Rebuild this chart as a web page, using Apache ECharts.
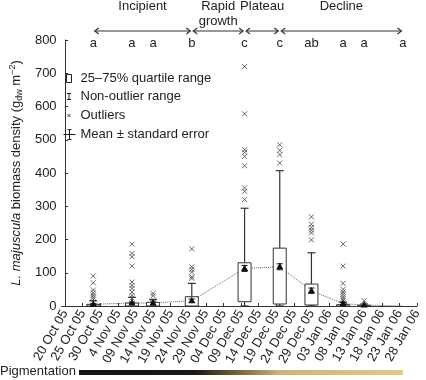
<!DOCTYPE html>
<html>
<head>
<meta charset="utf-8">
<script src="https://cdn.jsdelivr.net/npm/echarts@6/dist/echarts.min.js"></script>
<style>
html, body { margin: 0; padding: 0; background: #fff; }
#main { width: 426px; height: 380px; }
</style>
</head>
<body>
<div id="main"></div>
<script>
// x values are days after 20 Oct 2005
var tickLabels = ['20 Oct 05', '25 Oct 05', '30 Oct 05', '4 Nov 05', '09 Nov 05', '14 Nov 05',
  '19 Nov 05', '24 Nov 05', '29 Nov 05', '04 Dec 05', '09 Dec 05', '14 Dec 05', '19 Dec 05',
  '24 Dec 05', '29 Dec 05', '03 Jan 06', '08 Jan 06', '13 Jan 06', '18 Jan 06', '23 Jan 06', '28 Jan 06'];
var tickDays = [0, 5, 10, 15, 20, 25, 30, 35, 40, 45, 50, 55, 60, 65, 70, 75, 80, 85, 90, 95, 100];

var sampleDays  = [8, 19, 25, 36, 51, 61, 70, 79, 85, 96];
var whiskerLow  = [0, 0, 0, 0, 0, 0, 0, 0, 0, 0];
var q1          = [0, 0, 0, 0, 13, 6, 3, 0, 0, 0];
var q3          = [5, 9, 11, 28, 130, 174, 66, 4, 2, 0];
var whiskerHigh = [16, 26, 20, 68, 294, 407, 160, 12, 6, 0];
var means       = [5, 9, 9, 16, 113, 118, 46, 7, 3, 0];
var stdErr      = [2, 3, 6, 5, 9, 9, 8, 3, 1, 0];
var outliers = [
  [90, 70, 48, 40, 33, 26, 20],
  [186, 158, 148, 120, 72, 62, 53, 42, 32, 24],
  [38, 31],
  [172, 118, 110, 102, 88, 83],
  [720, 578, 470, 462, 450, 422, 355, 345, 320],
  [485, 468, 455, 430],
  [268, 246, 236, 228, 220, 199],
  [186, 120, 68, 50, 42, 35, 28, 22, 16],
  [16],
  []
];
var groupLetters = ['a', 'a', 'a', 'b', 'c', 'c', 'ab', 'a', 'a', 'a'];

var phaseNames = ['Incipient', 'Rapid\ngrowth', 'Plateau', 'Decline'];
var phaseStart = [8, 36, 51, 61];
var phaseEnd   = [36, 51, 61, 96];

var ink = '#222';
var font = '"Liberation Sans", Arial, Helvetica, sans-serif';

var boxData = sampleDays.map(function (d, i) { return [d, q1[i], q3[i]]; });
var whiskerData = sampleDays.map(function (d, i) { return [d, whiskerLow[i], q1[i], q3[i], whiskerHigh[i]]; });
var meanData = sampleDays.map(function (d, i) { return [d, means[i], stdErr[i]]; });
var outlierData = [];
outliers.forEach(function (list, i) {
  list.forEach(function (v) { outlierData.push([sampleDays[i], v]); });
});
var letterData = sampleDays.map(function (d, i) { return [d, groupLetters[i]]; });
var phaseData = phaseNames.map(function (n, i) { return [phaseStart[i], phaseEnd[i], n]; });

var chart = echarts.init(document.getElementById('main'));

function renderBox(params, api) {
  var x = api.coord([api.value(0), 0])[0];
  var yLo = api.coord([0, api.value(1)])[1];
  var yHi = api.coord([0, api.value(2)])[1];
  if (yLo - yHi < 0.5) return null;
  var w = 13;
  return {
    type: 'rect',
    shape: { x: x - w / 2, y: yHi, width: w, height: yLo - yHi },
    style: { fill: '#fff', stroke: '#333', lineWidth: 1 }
  };
}

function renderWhisker(params, api) {
  var x = api.coord([api.value(0), 0])[0];
  var yMin = api.coord([0, api.value(1)])[1];
  var yQ1 = api.coord([0, api.value(2)])[1];
  var yQ3 = api.coord([0, api.value(3)])[1];
  var yMax = api.coord([0, api.value(4)])[1];
  if (yMin - yMax < 0.5) return null;
  var c = 4;
  var st = { stroke: '#333', lineWidth: 1.2 };
  return {
    type: 'group',
    children: [
      { type: 'line', shape: { x1: x, y1: yQ3, x2: x, y2: yMax }, style: st },
      { type: 'line', shape: { x1: x - c, y1: yMax, x2: x + c, y2: yMax }, style: st },
      { type: 'line', shape: { x1: x, y1: yQ1, x2: x, y2: yMin }, style: st },
      { type: 'line', shape: { x1: x - c, y1: yMin, x2: x + c, y2: yMin }, style: st }
    ]
  };
}

function renderMean(params, api) {
  var m = api.value(1), se = api.value(2);
  if (m <= 0) return null;
  var x = api.coord([api.value(0), 0])[0];
  var y = api.coord([0, m])[1];
  var yTop = api.coord([0, m + se])[1];
  var yBot = api.coord([0, m - se])[1];
  var st = { stroke: '#111', lineWidth: 1 };
  var kids = [];
  if (yBot - yTop > 1) {
    kids.push({ type: 'line', shape: { x1: x, y1: yTop, x2: x, y2: yBot }, style: st });
    kids.push({ type: 'line', shape: { x1: x - 3, y1: yTop, x2: x + 3, y2: yTop }, style: st });
    kids.push({ type: 'line', shape: { x1: x - 3, y1: yBot, x2: x + 3, y2: yBot }, style: st });
  }
  kids.push({ type: 'polygon', shape: { points: [[x, y - 4], [x - 3.5, y + 2.5], [x + 3.5, y + 2.5]] },
    style: { fill: '#111' } });
  return { type: 'group', children: kids };
}

function renderLetter(params, api) {
  var x = api.coord([api.value(0), 0])[0];
  var y = api.coord([0, 800])[1] + 3;
  return {
    type: 'text',
    style: { x: x, y: y, text: groupLetters[params.dataIndex], fill: ink,
      font: '13px ' + font, align: 'center', verticalAlign: 'middle' }
  };
}

function renderPhase(params, api) {
  var x1 = api.coord([api.value(0), 0])[0] + 1.5;
  var x2 = api.coord([api.value(1), 0])[0] - 1.5;
  var y = api.coord([0, 800])[1] - 9;
  var st = { stroke: '#333', lineWidth: 1.2, fill: null };
  return {
    type: 'group',
    children: [
      { type: 'line', shape: { x1: x1, y1: y, x2: x2, y2: y }, style: st },
      { type: 'polyline', shape: { points: [[x1 + 4, y - 3], [x1, y], [x1 + 4, y + 3]] }, style: st },
      { type: 'polyline', shape: { points: [[x2 - 4, y - 3], [x2, y], [x2 - 4, y + 3]] }, style: st },
      { type: 'text', style: { x: (x1 + x2) / 2, y: y - 32, text: phaseNames[params.dataIndex],
        fill: ink, font: '13px ' + font, align: 'center', verticalAlign: 'top', lineHeight: 15 } }
    ]
  };
}

var crossPath = 'path://M0,0L10,10M10,0L0,10';

chart.setOption({
  animation: false,
  textStyle: { fontFamily: font },
  grid: { left: 51, right: 9, top: 40, bottom: 74 },
  legend: {
    orient: 'vertical',
    left: 56,
    top: 67,
    itemGap: 4,
    itemWidth: 12,
    itemHeight: 10,
    selectedMode: false,
    textStyle: { fontSize: 13, color: ink, fontFamily: font },
    data: [
      { name: '25–75% quartile range', icon: 'path://M0,0L0,0M12,10L12,10M3,1L8,1L8,9L3,9Z',
        itemStyle: { color: '#fff', borderColor: '#222', borderWidth: 1 } },
      { name: 'Non-outlier range', icon: 'path://M0,0L0,0M12,10L12,10M3.5,2L7.5,2M5.5,2L5.5,8M3.5,8L7.5,8',
        itemStyle: { color: 'none', borderColor: '#222', borderWidth: 1 } },
      { name: 'Outliers', icon: 'path://M0,0L0,0M12,10L12,10M4,3.5L7,6.5M7,3.5L4,6.5',
        itemStyle: { color: 'none', borderColor: '#222', borderWidth: 1 } },
      { name: 'Mean ± standard error', icon: 'path://M0,0L0,0M12,10L12,10M0,5L12,5M6,0L6,10M4,0L8,0M4,10L8,10',
        itemStyle: { color: 'none', borderColor: '#222', borderWidth: 1 } }
    ]
  },
  xAxis: {
    type: 'value',
    min: -1,
    max: 100,
    axisLine: { show: true, lineStyle: { color: '#333' } },
    axisTick: { show: true, inside: true, length: 3, customValues: tickDays, lineStyle: { color: '#333' } },
    splitLine: { show: false },
    axisLabel: {
      customValues: tickDays,
      rotate: 60,
      fontSize: 13,
      color: ink,
      margin: 5,
      formatter: function (v) { return tickLabels[Math.round(v / 5)]; }
    }
  },
  yAxis: {
    type: 'value',
    min: 0,
    max: 800,
    interval: 100,
    axisLine: { show: true, lineStyle: { color: '#333' } },
    axisTick: { show: true, inside: true, length: 3, lineStyle: { color: '#333' } },
    splitLine: { show: false },
    axisLabel: { fontSize: 13, color: ink, margin: 5 },
    name: '{i|L. majuscula} biomass density (g{s|dw} m{p|−2})',
    nameLocation: 'middle',
    nameGap: 32,
    nameTextStyle: {
      fontSize: 13, color: ink, lineHeight: 16,
      rich: {
        i: { fontStyle: 'italic', fontSize: 13, lineHeight: 16 },
        s: { fontSize: 9, verticalAlign: 'bottom', lineHeight: 16 },
        p: { fontSize: 9, verticalAlign: 'top', lineHeight: 16 }
      }
    }
  },
  graphic: [
    { type: 'text', left: 0, top: 365,
      style: { text: 'Pigmentation', fill: ink, font: '13px ' + font } },
    { type: 'rect', shape: { x: 79, y: 370, width: 324, height: 5 },
      style: { fill: new echarts.graphic.LinearGradient(0, 0, 1, 0, [
        { offset: 0, color: '#161314' },
        { offset: 0.36, color: '#1c1816' },
        { offset: 0.48, color: '#6e5d3e' },
        { offset: 0.62, color: '#c7b47f' },
        { offset: 1, color: '#dcc994' }
      ]) } }
  ],
  series: [
    {
      type: 'line',
      data: sampleDays.map(function (d, i) { return [d, means[i]]; }),
      symbol: 'none',
      lineStyle: { type: 'dotted', color: '#666', width: 1 },
      z: 1
    },
    {
      name: 'Non-outlier range',
      type: 'custom',
      data: whiskerData,
      renderItem: renderWhisker,
      itemStyle: { color: '#222' },
      z: 2
    },
    {
      name: '25–75% quartile range',
      type: 'custom',
      data: boxData,
      renderItem: renderBox,
      itemStyle: { color: '#fff' },
      z: 3
    },
    {
      name: 'Outliers',
      type: 'scatter',
      data: outlierData,
      symbol: crossPath,
      symbolSize: 5,
      itemStyle: { color: 'none', borderColor: '#444', borderWidth: 1 },
      z: 4
    },
    {
      name: 'Mean ± standard error',
      type: 'custom',
      data: meanData,
      renderItem: renderMean,
      itemStyle: { color: '#111' },
      z: 5
    },
    {
      type: 'custom',
      data: letterData,
      renderItem: renderLetter,
      clip: false,
      z: 6
    },
    {
      type: 'custom',
      data: phaseData,
      renderItem: renderPhase,
      clip: false,
      z: 6
    }
  ]
});
</script>
</body>
</html>
